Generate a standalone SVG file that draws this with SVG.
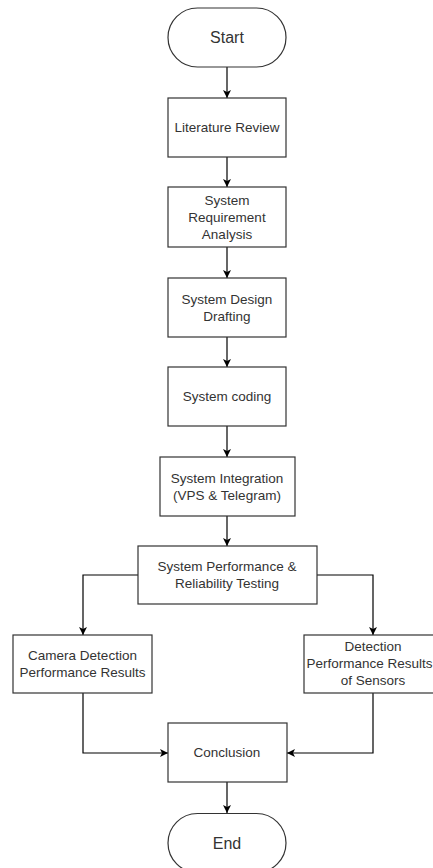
<svg xmlns="http://www.w3.org/2000/svg" width="433" height="868" viewBox="0 0 433 868">
<style>
.box{fill:#fff;stroke:#333;stroke-width:1.2}
.t{font-family:"Liberation Sans",Arial,sans-serif;font-size:13.5px;fill:#333;text-anchor:middle}
.tb{font-family:"Liberation Sans",Arial,sans-serif;font-size:16px;fill:#333;text-anchor:middle}
.c{fill:none;stroke:#000;stroke-width:1.2;marker-end:url(#ah)}
</style>
<defs>
<marker id="ah" markerUnits="userSpaceOnUse" markerWidth="10" markerHeight="10" refX="8" refY="4" orient="auto">
<path d="M0,0 L8,4 L0,8 L2,4 z" fill="#000"/>
</marker>
</defs>
<rect width="433" height="868" fill="#fff"/>
<g id="connectors">
<path class="c" d="M227,67 V98"/>
<path class="c" d="M227,157 V187"/>
<path class="c" d="M227,247 V278"/>
<path class="c" d="M227,337 V367"/>
<path class="c" d="M227,426 V457"/>
<path class="c" d="M227,516 V546"/>
<path class="c" d="M138,575 H83 V635"/>
<path class="c" d="M317,575 H373 V635"/>
<path class="c" d="M83,693 V753 H168"/>
<path class="c" d="M373,693 V753 H287"/>
<path class="c" d="M227,782 V813"/>
</g>
<g id="start">
<rect class="box" x="168" y="8" width="118" height="59" rx="29.5" ry="29.5"/>
<text class="tb" x="227" y="43">Start</text>
</g>
<g id="literature">
<rect class="box" x="168" y="98" width="118" height="59"/>
<text class="t" x="227" y="132">Literature Review</text>
</g>
<g id="requirement">
<rect class="box" x="168" y="187" width="118" height="60"/>
<text class="t" x="227" y="205">System</text>
<text class="t" x="227" y="222">Requirement</text>
<text class="t" x="227" y="239">Analysis</text>
</g>
<g id="design">
<rect class="box" x="168" y="278" width="118" height="59"/>
<text class="t" x="227" y="303.5">System Design</text>
<text class="t" x="227" y="320.5">Drafting</text>
</g>
<g id="coding">
<rect class="box" x="168" y="367" width="118" height="59"/>
<text class="t" x="227" y="401">System coding</text>
</g>
<g id="integration">
<rect class="box" x="160" y="457" width="135" height="59"/>
<text class="t" x="227" y="482.5">System Integration</text>
<text class="t" x="227" y="499.5">(VPS &amp; Telegram)</text>
</g>
<g id="testing">
<rect class="box" x="138" y="546" width="179" height="58"/>
<text class="t" x="227" y="571">System Performance &amp;</text>
<text class="t" x="227" y="588">Reliability Testing</text>
</g>
<g id="camera">
<rect class="box" x="13" y="635" width="139" height="58"/>
<text class="t" x="82.5" y="660">Camera Detection</text>
<text class="t" x="82.5" y="677">Performance Results</text>
</g>
<g id="sensors">
<rect class="box" x="304" y="635" width="138" height="58"/>
<text class="t" x="373" y="651">Detection</text>
<text class="t" x="369.5" y="668">Performance Results</text>
<text class="t" x="373" y="685">of Sensors</text>
</g>
<g id="conclusion">
<rect class="box" x="168" y="723" width="119" height="59"/>
<text class="t" x="227" y="757">Conclusion</text>
</g>
<g id="end">
<rect class="box" x="168" y="813.5" width="118" height="59" rx="29.5" ry="29.5"/>
<text class="tb" x="227" y="849">End</text>
</g>
</svg>
